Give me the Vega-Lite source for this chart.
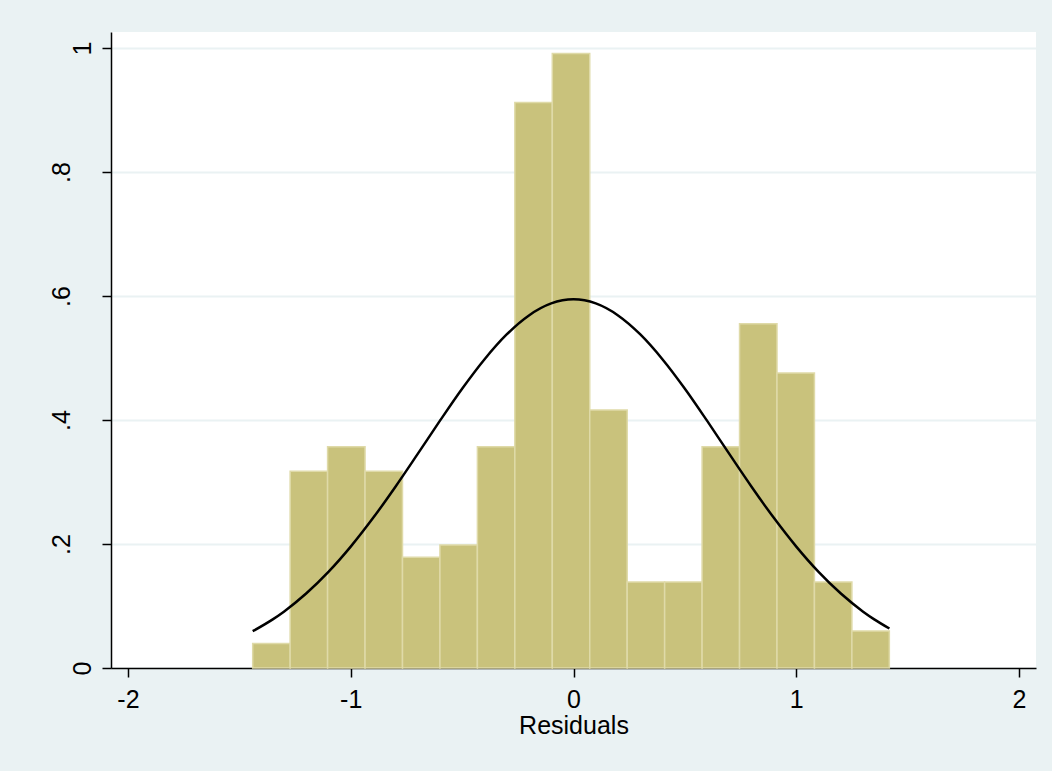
{
  "$schema": "https://vega.github.io/schema/vega-lite/v6.json",
  "width": 925,
  "height": 636,
  "autosize": {"type": "none"},
  "padding": {"left": 111, "top": 32, "right": 16, "bottom": 103},
  "background": "#eaf2f3",
  "config": {
    "view": {"fill": "white", "stroke": null},
    "font": "Liberation Sans",
    "axis": {
      "domainColor": "black",
      "domainWidth": 1.5,
      "tickColor": "black",
      "tickWidth": 1.5,
      "tickSize": 9,
      "labelFontSize": 25,
      "labelColor": "black",
      "labelFont": "Liberation Sans",
      "titleFont": "Liberation Sans",
      "titleFontSize": 25,
      "titleFontWeight": "normal",
      "titleColor": "black"
    }
  },
  "datasets": {
    "bins": [
      {"bin_start": -1.4400, "bin_end": -1.2719, "density": 0.0397},
      {"bin_start": -1.2719, "bin_end": -1.1038, "density": 0.3173},
      {"bin_start": -1.1038, "bin_end": -0.9357, "density": 0.3569},
      {"bin_start": -0.9357, "bin_end": -0.7676, "density": 0.3173},
      {"bin_start": -0.7676, "bin_end": -0.5995, "density": 0.1785},
      {"bin_start": -0.5995, "bin_end": -0.4314, "density": 0.1983},
      {"bin_start": -0.4314, "bin_end": -0.2633, "density": 0.3569},
      {"bin_start": -0.2633, "bin_end": -0.0952, "density": 0.9122},
      {"bin_start": -0.0952, "bin_end": 0.0729, "density": 0.9915},
      {"bin_start": 0.0729, "bin_end": 0.2410, "density": 0.4164},
      {"bin_start": 0.2410, "bin_end": 0.4091, "density": 0.1388},
      {"bin_start": 0.4091, "bin_end": 0.5772, "density": 0.1388},
      {"bin_start": 0.5772, "bin_end": 0.7453, "density": 0.3569},
      {"bin_start": 0.7453, "bin_end": 0.9134, "density": 0.5553},
      {"bin_start": 0.9134, "bin_end": 1.0815, "density": 0.4759},
      {"bin_start": 1.0815, "bin_end": 1.2496, "density": 0.1388},
      {"bin_start": 1.2496, "bin_end": 1.4177, "density": 0.0595}
    ],
    "curve": [
      {"residual": -1.44, "density": 0.0594},
      {"residual": -1.35, "density": 0.0785},
      {"residual": -1.3, "density": 0.0909},
      {"residual": -1.2, "density": 0.1201},
      {"residual": -1.1, "density": 0.1550},
      {"residual": -1.0, "density": 0.1958},
      {"residual": -0.9, "density": 0.2418},
      {"residual": -0.8, "density": 0.2921},
      {"residual": -0.7, "density": 0.3450},
      {"residual": -0.6, "density": 0.3986},
      {"residual": -0.5, "density": 0.4505},
      {"residual": -0.4, "density": 0.4978},
      {"residual": -0.3, "density": 0.5381},
      {"residual": -0.2, "density": 0.5688},
      {"residual": -0.1, "density": 0.5881},
      {"residual": 0.0, "density": 0.5947},
      {"residual": 0.1, "density": 0.5881},
      {"residual": 0.2, "density": 0.5688},
      {"residual": 0.3, "density": 0.5381},
      {"residual": 0.4, "density": 0.4978},
      {"residual": 0.5, "density": 0.4505},
      {"residual": 0.6, "density": 0.3986},
      {"residual": 0.7, "density": 0.3450},
      {"residual": 0.8, "density": 0.2921},
      {"residual": 0.9, "density": 0.2418},
      {"residual": 1.0, "density": 0.1958},
      {"residual": 1.1, "density": 0.1550},
      {"residual": 1.2, "density": 0.1201},
      {"residual": 1.3, "density": 0.0909},
      {"residual": 1.35, "density": 0.0785},
      {"residual": 1.418, "density": 0.0637}
    ]
  },
  "layer": [
    {
      "data": {"name": "bins"},
      "mark": {"type": "rect", "fill": "#c9c27c", "stroke": "#dfdaa8", "strokeWidth": 1.5},
      "encoding": {
        "x": {
          "field": "bin_start",
          "type": "quantitative",
          "scale": {"domain": [-2.076, 2.076], "nice": false, "zero": false},
          "axis": {
            "title": "Residuals",
            "values": [-2, -1, 0, 1, 2],
            "grid": false,
            "labelPadding": 10,
            "titlePadding": 1,
            "labelExpr": "'' + datum.value"
          }
        },
        "x2": {"field": "bin_end"},
        "y": {
          "field": "density",
          "type": "quantitative",
          "scale": {"domain": [0, 1.026], "nice": false},
          "axis": {
            "title": null,
            "values": [0, 0.2, 0.4, 0.6, 0.8, 1],
            "grid": true,
            "gridColor": "#eaf2f3",
            "gridWidth": 2,
            "labelAngle": -90,
            "labelAlign": "center",
            "labelBaseline": "bottom",
            "labelPadding": {"condition": {"test": "datum.value == 0 || datum.value == 1", "value": 7}, "value": 28},
            "labelExpr": "datum.value == 0 ? '0' : datum.value == 1 ? '1' : replace(format(datum.value, '.1f'), '0.', '.')"
          }
        },
        "y2": {"datum": 0}
      }
    },
    {
      "data": {"name": "curve"},
      "mark": {"type": "line", "color": "black", "strokeWidth": 2.5, "interpolate": "monotone"},
      "encoding": {
        "x": {"field": "residual", "type": "quantitative"},
        "y": {"field": "density", "type": "quantitative"}
      }
    }
  ]
}
